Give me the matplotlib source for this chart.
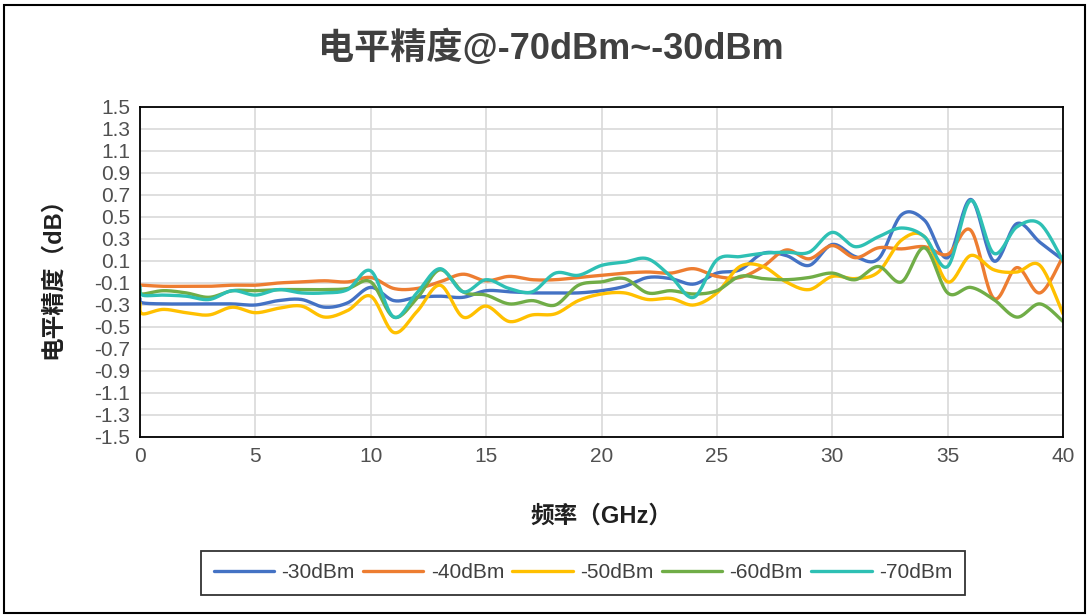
import numpy as np
import matplotlib
matplotlib.use("Agg")
import matplotlib.pyplot as plt
from matplotlib.patches import Rectangle

plt.rcParams['font.family'] = ['Liberation Sans', 'Noto Sans CJK SC', 'DejaVu Sans']

# ── Data ─────────────────────────────────────────────────────────────────────
freq_ghz = [0, 0.1] + list(range(1, 41))

lvl_30 = [-0.24, -0.28, -0.29, -0.29, -0.29, -0.29, -0.30, -0.26, -0.25, -0.32, -0.28,
          -0.14, -0.26, -0.23, -0.22, -0.23, -0.17, -0.18, -0.19, -0.19, -0.19,
          -0.17, -0.13, -0.05, -0.06, -0.11, -0.01, 0.02, 0.17, 0.15, 0.06,
          0.25, 0.14, 0.12, 0.52, 0.47, 0.13, 0.66, 0.10, 0.44, 0.27, 0.11]
lvl_40 = [-0.12, -0.12, -0.13, -0.13, -0.13, -0.12, -0.12, -0.10, -0.09, -0.08, -0.09,
          -0.05, -0.15, -0.15, -0.09, -0.02, -0.08, -0.04, -0.07, -0.07, -0.05,
          -0.03, -0.01, 0.00, -0.01, 0.03, -0.04, -0.05, 0.05, 0.20, 0.12,
          0.24, 0.13, 0.22, 0.21, 0.23, 0.16, 0.38, -0.24, 0.04, -0.19, 0.14]
lvl_50 = [-0.28, -0.38, -0.34, -0.37, -0.39, -0.32, -0.37, -0.33, -0.31, -0.41, -0.35,
          -0.22, -0.55, -0.36, -0.12, -0.41, -0.31, -0.45, -0.39, -0.38, -0.26,
          -0.20, -0.19, -0.25, -0.24, -0.30, -0.19, 0.05, 0.05, -0.09, -0.16,
          -0.04, -0.06, 0.00, 0.29, 0.32, -0.09, 0.15, 0.02, 0.00, 0.06, -0.38]
lvl_60 = [-0.16, -0.20, -0.17, -0.19, -0.23, -0.17, -0.17, -0.16, -0.16, -0.16, -0.15,
          -0.09, -0.41, -0.24, 0.02, -0.18, -0.21, -0.29, -0.26, -0.30, -0.12,
          -0.09, -0.06, -0.19, -0.17, -0.20, -0.17, -0.04, -0.06, -0.07, -0.05,
          -0.01, -0.07, 0.05, -0.09, 0.22, -0.19, -0.14, -0.25, -0.41, -0.29, -0.45]
lvl_70 = [-0.13, -0.21, -0.21, -0.22, -0.25, -0.17, -0.21, -0.16, -0.19, -0.19, -0.16,
          0.01, -0.41, -0.19, 0.03, -0.18, -0.07, -0.15, -0.18, -0.01, -0.03,
          0.06, 0.09, 0.12, -0.04, -0.23, 0.11, 0.14, 0.17, 0.18, 0.18,
          0.36, 0.23, 0.32, 0.40, 0.32, 0.05, 0.65, 0.17, 0.41, 0.44, 0.10]

series_labels = ["-30dBm", "-40dBm", "-50dBm", "-60dBm", "-70dBm"]
series_colors = ["#4472C4", "#ED7D31", "#FFC000", "#70AD47", "#2EC0B4"]
y_ticks = [round(v, 1) for v in np.arange(-1.5, 1.51, 0.2)]
x_ticks = [0, 5, 10, 15, 20, 25, 30, 35, 40]


def smooth(xs, ys, n=20):
    # Excel-style smoothed line: Catmull-Rom / cubic Bezier through the points
    p = np.column_stack([xs, ys]).astype(float)
    p = np.vstack([p[0], p, p[-1]])
    out = []
    t = np.linspace(0, 1, n, endpoint=False)[:, None]
    for i in range(1, len(p) - 2):
        p0, p1, p2, p3 = p[i - 1], p[i], p[i + 1], p[i + 2]
        c1 = p1 + (p2 - p0) / 6
        c2 = p2 - (p3 - p1) / 6
        seg = ((1 - t) ** 3) * p1 + 3 * ((1 - t) ** 2) * t * c1 \
            + 3 * (1 - t) * t ** 2 * c2 + t ** 3 * p2
        out.append(seg)
    out.append(p[-2][None, :])
    out = np.vstack(out)
    return out[:, 0], out[:, 1]


fig = plt.figure(figsize=(10.89, 6.15), dpi=100)
ax = fig.add_axes([140 / 1089, 1 - 437 / 615, 923 / 1089, 330 / 615])

for vals, lab, col in zip([lvl_30, lvl_40, lvl_50, lvl_60, lvl_70],
                          series_labels, series_colors):
    sx, sy = smooth(freq_ghz, vals)
    ax.plot(sx, sy, color=col, lw=2.4, label=lab, solid_capstyle="round")

ax.set_xlim(0, 40)
ax.set_ylim(-1.5, 1.5)
ax.set_xticks(x_ticks)
ax.set_yticks(y_ticks)
ax.set_yticklabels([f"{v:.1f}" for v in y_ticks])
ax.tick_params(length=0, labelsize=15, colors="#505050", pad=7)
ax.grid(True, color="#d9d9d9", lw=1.2)
ax.set_axisbelow(True)
for sp in ax.spines.values():
    sp.set_color("black")
    sp.set_linewidth(1.3)

ax.set_xlabel("频率（GHz）", fontsize=17, fontweight="bold", color="#202020", labelpad=28)
ax.set_ylabel("电平精度（dB）", fontsize=17, fontweight="bold", color="#202020", labelpad=22)
fig.text(0.506, 0.921, "电平精度@-70dBm~-30dBm", ha="center", va="center",
         fontsize=26, fontweight="bold", color="#404040")

leg = ax.legend(loc="center", bbox_to_anchor=(583 / 1089, 1 - 573 / 615),
                bbox_transform=fig.transFigure, ncol=5, fontsize=15,
                frameon=True, fancybox=False, edgecolor="black",
                handlelength=2.9, columnspacing=0.4, handletextpad=0.35,
                borderpad=0.6, borderaxespad=0)
leg.get_frame().set_linewidth(1.3)
for t in leg.get_texts():
    t.set_color("#404040")

fig.patches.append(Rectangle((0.004, 0.004), 0.992, 0.988, transform=fig.transFigure,
                             fill=False, edgecolor="black", lw=1.5))

fig.savefig("out.png", dpi=100)
